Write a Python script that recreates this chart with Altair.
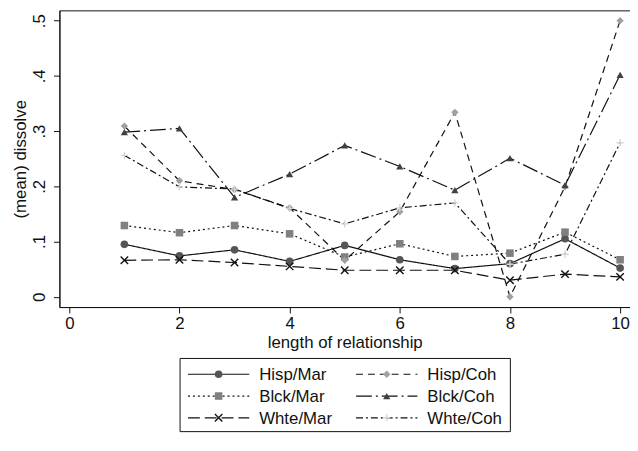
import altair as alt
import pandas as pd

# ---------------- data ----------------
x_vals = [1, 2, 3, 4, 5, 6, 7, 8, 9, 10]
series = ["Hisp/Mar", "Blck/Mar", "Whte/Mar", "Hisp/Coh", "Blck/Coh", "Whte/Coh"]

hisp_mar = [0.095, 0.074, 0.085, 0.064, 0.093, 0.067, 0.051, 0.060, 0.105, 0.052]
blck_mar = [0.129, 0.116, 0.129, 0.114, 0.072, 0.096, 0.073, 0.079, 0.117, 0.067]
whte_mar = [0.066, 0.067, 0.062, 0.055, 0.048, 0.048, 0.048, 0.030, 0.041, 0.036]
hisp_coh = [0.309, 0.210, 0.194, 0.161, 0.066, 0.154, 0.334, 0.000, 0.199, 0.500]
blck_coh = [0.298, 0.305, 0.180, 0.222, 0.274, 0.236, 0.193, 0.251, 0.202, 0.402]
whte_coh = [0.256, 0.199, 0.195, 0.160, 0.132, 0.161, 0.170, 0.059, 0.077, 0.279]

x_ticks = [0, 2, 4, 6, 8, 10]
y_ticks = [0, 0.1, 0.2, 0.3, 0.4, 0.5]
x_title = "length of relationship"
y_title = "(mean) dissolve"

# ---------------- styles ----------------
dashes = [[1, 0], [2, 3], [12, 5], [7, 5], [16, 4, 2, 4], [7, 3, 2, 3]]
X_PATH = "M-1,-1L1,1M1,-1L-1,1"
PLUS_PATH = "M-1,0L1,0M0,-1L0,1"
shapes = ["circle", "square", X_PATH, "diamond", "triangle-up", PLUS_PATH]
marker_colors = ["#555555", "#808080", "#111111", "#a0a0a0", "#404040", "#d4d4d4"]
sizes = [60, 52, 28, 120, 110, 64]
filled_set = ["Hisp/Mar", "Blck/Mar", "Hisp/Coh", "Blck/Coh"]
stroked_set = ["Whte/Mar", "Whte/Coh"]

FONT = "Liberation Sans"
FS = 17
W, H = 577, 300

all_vals = [hisp_mar, blck_mar, whte_mar, hisp_coh, blck_coh, whte_coh]
rows = []
for s, vals in zip(series, all_vals):
    for xv, yv in zip(x_vals, vals):
        rows.append({"x": xv, "series": s, "value": yv})
df = pd.DataFrame(rows)

x_scale = alt.Scale(domain=[-0.1795, 10.1795], nice=False, zero=False)
y_scale = alt.Scale(domain=[-0.0186, 0.5186], nice=False, zero=False)
dash_scale = alt.Scale(domain=series, range=dashes)
color_scale = alt.Scale(domain=series, range=marker_colors)
shape_scale = alt.Scale(domain=series, range=shapes)
size_scale = alt.Scale(domain=series, range=sizes)

X = alt.X("x:Q", scale=x_scale,
          axis=alt.Axis(values=x_ticks, title=x_title, format="d",
                        labelPadding=3, titlePadding=3))
Y = alt.Y("value:Q", scale=y_scale,
          axis=alt.Axis(values=y_ticks, title=y_title, labelAngle=270,
                        labelAlign="center", labelBaseline="bottom",
                        labelPadding=5, titlePadding=1,
                        labelExpr="datum.value == 0 ? '0' : replace(format(datum.value, '.1f'), '0.', '.')"))

lines = alt.Chart(df).mark_line(color="#111111", strokeWidth=1.2).encode(
    x=X, y=Y,
    detail="series:N",
    strokeDash=alt.StrokeDash("series:N", scale=dash_scale, legend=None),
)

pts_filled = alt.Chart(df).transform_filter(
    alt.FieldOneOfPredicate(field="series", oneOf=filled_set)
).mark_point(filled=True, opacity=1).encode(
    x=X, y=Y,
    shape=alt.Shape("series:N", scale=shape_scale, legend=None),
    fill=alt.Fill("series:N", scale=color_scale, legend=None),
    size=alt.Size("series:N", scale=size_scale, legend=None),
)

pts_stroked = alt.Chart(df).transform_filter(
    alt.FieldOneOfPredicate(field="series", oneOf=stroked_set)
).mark_point(filled=False, opacity=1, strokeWidth=1.4).encode(
    x=X, y=Y,
    shape=alt.Shape("series:N", scale=shape_scale, legend=None),
    stroke=alt.Stroke("series:N", scale=color_scale, legend=None),
    size=alt.Size("series:N", scale=size_scale, legend=None),
)

# ---------------- manual legend (pixel positions relative to plot area) ----------------
leg_order = ["Hisp/Mar", "Hisp/Coh", "Blck/Mar", "Blck/Coh", "Whte/Mar", "Whte/Coh"]
col_x0 = [130, 300]
row_y = [368, 390, 412]
leg_rows = []
for i, s in enumerate(leg_order):
    c, r = i % 2, i // 2
    leg_rows.append({"series": s, "lx1": col_x0[c], "lx2": col_x0[c] + 62,
                     "mx": col_x0[c] + 31, "tx": col_x0[c] + 72, "ly": row_y[r]})
leg_df = pd.DataFrame(leg_rows)
box_df = pd.DataFrame([{"bx1": 122, "bx2": 456, "by1": 352, "by2": 426}])

box = alt.Chart(box_df).mark_rect(fill="white", stroke="#111111", strokeWidth=1).encode(
    x=alt.X("bx1:Q", scale=None, axis=None), x2="bx2:Q",
    y=alt.Y("by1:Q", scale=None, axis=None), y2="by2:Q",
)
leg_lines = alt.Chart(leg_df).mark_rule(color="#111111", strokeWidth=1.2).encode(
    x=alt.X("lx1:Q", scale=None, axis=None), x2="lx2:Q",
    y=alt.Y("ly:Q", scale=None, axis=None),
    strokeDash=alt.StrokeDash("series:N", scale=dash_scale, legend=None),
)
leg_pf = alt.Chart(leg_df).transform_filter(
    alt.FieldOneOfPredicate(field="series", oneOf=filled_set)
).mark_point(filled=True, opacity=1).encode(
    x=alt.X("mx:Q", scale=None, axis=None),
    y=alt.Y("ly:Q", scale=None, axis=None),
    shape=alt.Shape("series:N", scale=shape_scale, legend=None),
    fill=alt.Fill("series:N", scale=color_scale, legend=None),
    size=alt.Size("series:N", scale=size_scale, legend=None),
)
leg_ps = alt.Chart(leg_df).transform_filter(
    alt.FieldOneOfPredicate(field="series", oneOf=stroked_set)
).mark_point(filled=False, opacity=1, strokeWidth=1.4).encode(
    x=alt.X("mx:Q", scale=None, axis=None),
    y=alt.Y("ly:Q", scale=None, axis=None),
    shape=alt.Shape("series:N", scale=shape_scale, legend=None),
    stroke=alt.Stroke("series:N", scale=color_scale, legend=None),
    size=alt.Size("series:N", scale=size_scale, legend=None),
)
leg_text = alt.Chart(leg_df).mark_text(align="left", baseline="middle", font=FONT,
                                       fontSize=FS, color="#111111", dy=1).encode(
    x=alt.X("tx:Q", scale=None, axis=None),
    y=alt.Y("ly:Q", scale=None, axis=None),
    text="series:N",
)

chart = alt.layer(
    lines, pts_filled, pts_stroked, box, leg_lines, leg_pf, leg_ps, leg_text
).properties(
    width=W, height=H,
    padding={"left": 4, "top": 0, "right": 0, "bottom": 0},
    background="white",
).configure_view(
    stroke="#111111", strokeWidth=1
).configure_axis(
    grid=False, domainColor="#111111", tickColor="#111111", tickSize=6,
    labelFont=FONT, labelFontSize=FS, labelColor="#111111",
    titleFont=FONT, titleFontSize=FS, titleFontWeight="normal", titleColor="#111111",
)

chart.save("out.html", embed_options={"renderer": "svg", "actions": False})
